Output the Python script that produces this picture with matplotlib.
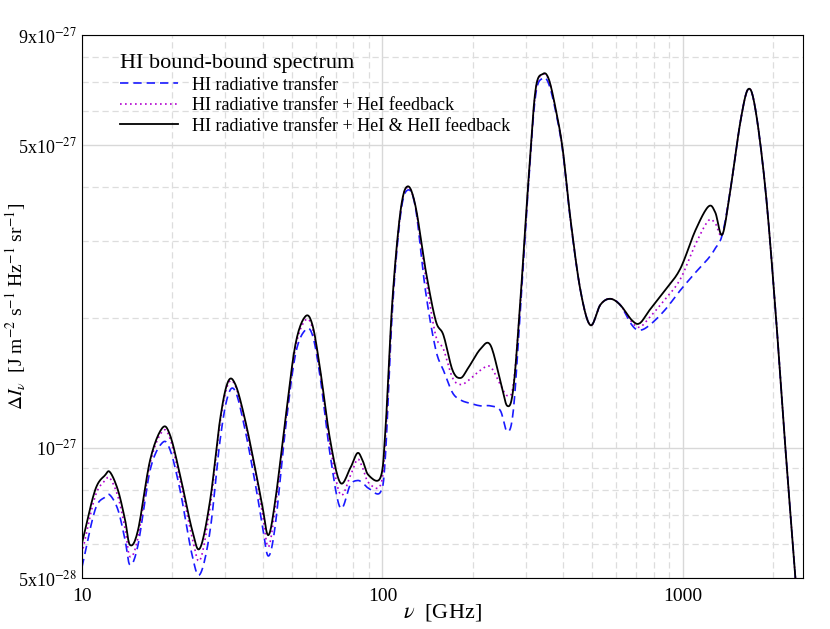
import matplotlib
matplotlib.use("Agg")
import matplotlib.pyplot as plt
import numpy as np
from matplotlib.ticker import FixedLocator, NullFormatter, LogLocator

plt.rcParams["font.family"] = "Liberation Serif"
plt.rcParams["mathtext.fontset"] = "stix"

# frequency grid [GHz]
nu = [10.0, 11.05, 11.93, 12.40, 13.18, 13.91, 14.45, 15.36, 16.85, 18.48, 19.63, 21.21,
      23.26, 24.7, 26.7, 28.8, 30.6, 32.4, 34.9, 37.8, 39.8, 41.7, 44.0, 47.5, 51.3, 55.3,
      58.5, 62.1, 67.0, 72.4, 78.1, 82.5, 85.8, 89.9, 98.5, 102.3, 107.9, 114.8, 121.2,
      128.8, 139.0, 150.3, 159.6, 171.1, 182.0, 193.0, 211.6, 228.4, 246.6, 260.2, 272.6,
      287.7, 306, 323, 341.5, 357.8, 377.7, 398.1, 423, 456, 492, 531, 572, 618, 677, 718,
      774, 870, 979, 1100, 1215, 1281, 1352, 1438, 1555, 1651, 1744, 1883, 2032, 2195, 2370]

# Delta I_nu in units of 1e-28 J m^-2 s^-1 Hz^-1 sr^-1
hi_full = [6.02, 7.97, 8.64, 8.78, 7.97, 6.81, 5.96, 6.45, 9.36, 11.1, 10.7, 8.64,
           6.45, 5.86, 7.57, 11.6, 14.2, 14.0, 11.6, 8.87, 7.36, 6.28, 7.57, 11.6, 17.3, 20.1,
           19.2, 15.1, 10.4, 8.3, 8.97, 9.72, 9.36, 8.64, 8.54, 11.0, 21.9, 35.2, 40.2,
           36.2, 25.9, 19.7, 18.2, 15.1, 14.5, 15.3, 16.9, 17.3, 14.3, 12.5, 13.7,
           21.9, 41.4, 67.0, 73.1, 71.1, 60.4, 48.9, 33.5, 23.1, 19.2, 21.4, 22.1, 21.4, 19.7, 19.4,
           20.8, 23.1, 25.9, 31.8, 36.1, 35.0, 31.1, 39.4, 57.0, 67.5, 60.4, 39.4, 20.8, 9.9, 4.95]

hi_rt = [5.30, 7.18, 7.69, 7.77, 7.18, 6.12, 5.36, 5.96, 8.87, 10.26, 9.9, 7.97,
         5.64, 5.10, 6.45, 10.4, 13.2, 13.5, 11.0, 8.2, 6.64, 5.62, 6.64, 11.0, 16.4, 18.7,
         18.2, 14.5, 9.6, 7.26, 8.2, 8.4, 8.3, 8.06, 7.9, 9.6, 20.8, 34.5, 39.4,
         35.9, 23.1, 16.9, 15.1, 13.4, 12.9, 12.7, 12.5, 12.5, 12.2, 10.9, 12.2,
         20.8, 40.4, 65.0, 71.5, 69.3, 59.6, 48.4, 33.2, 23.1, 19.2, 21.4, 22.1, 21.4, 19.2, 18.7,
         19.2, 20.8, 23.1, 25.4, 27.4, 28.9, 31.1, 39.4, 57.0, 67.5, 60.4, 39.4, 20.8, 9.9, 4.95]

hi_hei = [5.7, 7.7, 8.4, 8.5, 7.7, 6.5, 5.6, 6.2, 9.2, 10.9, 10.5, 8.4,
          6.2, 5.5, 7.3, 11.4, 14.0, 13.9, 11.4, 8.7, 7.1, 5.9, 7.3, 11.4, 17.0, 19.7,
          18.9, 14.9, 10.1, 7.8, 8.6, 9.4, 9.0, 8.3, 8.2, 10.5, 21.5, 35.0, 40.0,
          36.0, 25.0, 18.2, 16.9, 14.5, 14.0, 14.3, 15.1, 15.4, 14.0, 13.2, 14.0,
          21.6, 41.0, 66.5, 72.8, 70.8, 60.2, 48.7, 33.4, 23.1, 19.2, 21.4, 22.1, 21.4, 19.5, 19.0,
          20.0, 22.0, 24.5, 29.5, 33.5, 33.0, 31.1, 39.4, 57.0, 67.5, 60.4, 39.4, 20.8, 9.9, 4.95]


def smooth(xs, ys, n=12):
    """Catmull-Rom through the read points, in log-log space."""
    lx, ly = np.log10(xs), np.log10(ys)
    px = np.concatenate([[2 * lx[0] - lx[1]], lx, [2 * lx[-1] - lx[-2]]])
    py = np.concatenate([[2 * ly[0] - ly[1]], ly, [2 * ly[-1] - ly[-2]]])
    ox, oy = [], []
    t = np.linspace(0, 1, n, endpoint=False)
    for i in range(1, len(px) - 2):
        for p, o in ((px, ox), (py, oy)):
            p0, p1, p2, p3 = p[i - 1], p[i], p[i + 1], p[i + 2]
            o.append(0.5 * (2 * p1 + (-p0 + p2) * t + (2 * p0 - 5 * p1 + 4 * p2 - p3) * t ** 2
                            + (-p0 + 3 * p1 - 3 * p2 + p3) * t ** 3))
    ox.append([lx[-1]]); oy.append([ly[-1]])
    return 10 ** np.concatenate(ox), 10 ** np.concatenate(oy)


x = np.array(nu)
fig = plt.figure(figsize=(8.3, 6.29), dpi=100)
ax = fig.add_axes([0.0988, 0.0811, 0.8687, 0.8633])

series = [(hi_rt, (0, (5, 3)), "#1a1aff", 1.2, "HI radiative transfer"),
          (hi_hei, (0, (1, 2)), "#b000d0", 1.2, "HI radiative transfer + HeI feedback"),
          (hi_full, "-", "black", 1.3, "HI radiative transfer + HeI & HeII feedback")]
for vals, ls, col, lw, lab in series:
    sx, sy = smooth(x, np.array(vals) * 1e-28)
    ax.plot(sx, sy, ls=ls, color=col, lw=lw, label=lab)

ax.set_xscale("log"); ax.set_yscale("log")
ax.set_xlim(10, 2510); ax.set_ylim(5e-28, 9e-27)

ax.xaxis.set_major_locator(FixedLocator([10, 100, 1000]))
ax.set_xticklabels(["10", "100", "1000"], fontsize=14)
ax.xaxis.set_minor_locator(LogLocator(base=10, subs=np.arange(2, 10)))
ax.xaxis.set_minor_formatter(NullFormatter())
ax.yaxis.set_major_locator(FixedLocator([5e-28, 1e-27, 5e-27, 9e-27]))
ax.set_yticklabels([r"5x10$^{-28}$", r"10$^{-27}$", r"5x10$^{-27}$", r"9x10$^{-27}$"], fontsize=13)
ax.yaxis.set_minor_locator(LogLocator(base=10, subs=np.arange(2, 10)))
ax.yaxis.set_minor_formatter(NullFormatter())
ax.tick_params(which="both", length=0)
ax.tick_params(axis="x", pad=7)
ax.tick_params(axis="y", pad=4)

ax.grid(which="major", color="#d8d8d8", lw=1.0)
ax.grid(which="minor", color="#dddddd", lw=0.9, ls=(0, (5, 3)))
ax.set_axisbelow(True)

ax.set_xlabel(r"$\nu$  [GHz]", fontsize=16)
ax.xaxis.set_label_coords(0.5, -0.045)
ax.set_ylabel(r"$\Delta I_\nu$  [J m$^{-2}$ s$^{-1}$ Hz$^{-1}$ sr$^{-1}$]", fontsize=14)
ax.yaxis.set_label_coords(-0.075, 0.5)

leg = ax.legend(loc="upper left", bbox_to_anchor=(0.03, 0.995), frameon=False, fontsize=13,
                title="HI bound-bound spectrum", title_fontsize=16, handlelength=3.2,
                labelspacing=0.2)
leg._legend_box.align = "left"

fig.savefig("out.png", dpi=100)
